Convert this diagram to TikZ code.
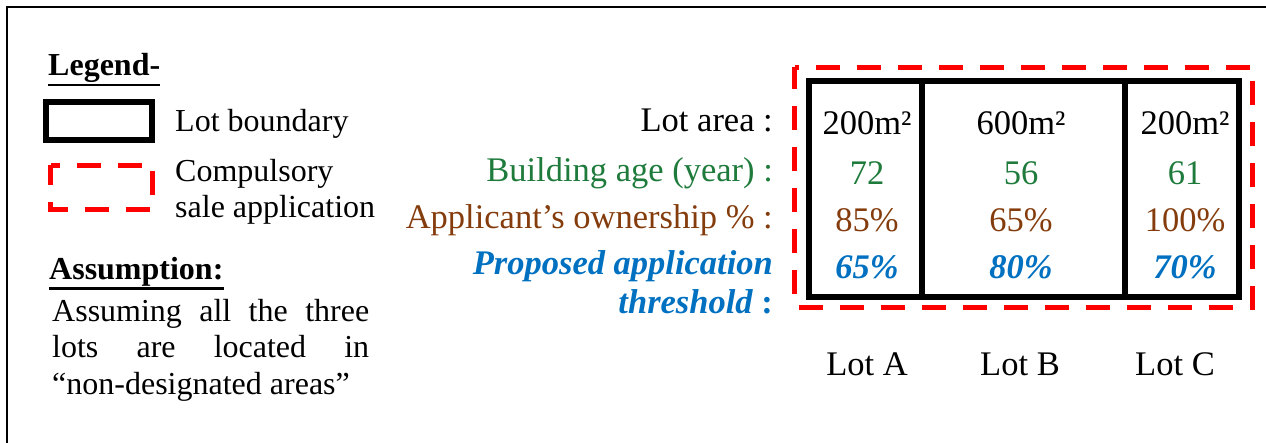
\documentclass[tikz,border=0pt]{standalone}
\usepackage{fontspec}
\setmainfont{Liberation Serif}
\definecolor{agegreen}{HTML}{1E7B3C}
\definecolor{ownbrown}{HTML}{843C0C}
\definecolor{threshblue}{HTML}{0070C0}
\definecolor{salered}{HTML}{FF0000}
\tikzset{
  txt/.style={inner sep=0pt, font=\fontsize{32}{36}\selectfont},
  rtxt/.style={inner sep=0pt, font=\fontsize{34.5}{40}\selectfont},
  lotline/.style={draw=black, line width=6pt},
  saleline/.style={draw=salered, line width=5pt, dash pattern=on 24pt off 17pt},
  uline/.style={line width=2.5pt},
  agetxt/.style={rtxt, text=agegreen},
  owntxt/.style={rtxt, text=ownbrown},
  thrtxt/.style={rtxt, text=threshblue, font=\fontsize{34.5}{40}\selectfont\bfseries\itshape},
}
\begin{document}
\begin{tikzpicture}[x=1pt, y=-1pt]
\useasboundingbox (0,0) rectangle (1266,443);
% outer frame (top and left edges only)
\draw[line width=2pt] (7,443) -- (7,7) -- (1266,7);

% ---- legend ----
\node[txt, font=\fontsize{32}{36}\selectfont\bfseries, anchor=base west] (legtitle) at (48,76) {Legend-};
\draw[uline] ([yshift=-1.5pt]legtitle.south west) -- ([yshift=-1.5pt]legtitle.south east);

\draw[lotline] (46,102) rectangle (152,140);
\node[txt, anchor=base west] (leglot) at (175,132) {Lot boundary};

\draw[saleline, dash phase=4pt] (50.5,165.5) rectangle (152.5,209.5);
\node[txt, anchor=base west] (legsale1) at (175,182) {Compulsory};
\node[txt, anchor=base west] (legsale2) at (175,218) {sale application};

% ---- assumption ----
\node[txt, font=\fontsize{32}{36}\selectfont\bfseries, anchor=base west] (asstitle) at (49,280) {Assumption:};
\draw[uline] ([yshift=-1.5pt]asstitle.south west) -- ([yshift=-1.5pt]asstitle.south east);
\node[txt, anchor=base west] (ass1) at (52,322) {\makebox[317pt][s]{Assuming all the three}};
\node[txt, anchor=base west] (ass2) at (52,358) {\makebox[317pt][s]{lots are located in}};
\node[txt, anchor=base west] (ass3) at (52,394) {“non-designated areas”};

% ---- row labels ----
\node[rtxt, anchor=base east] (lblarea) at (773,132) {Lot area :};
\node[agetxt, anchor=base east] (lblage) at (773,182) {Building age (year) :};
\node[owntxt, anchor=base east] (lblown) at (773,229) {Applicant’s ownership \% :};
\node[thrtxt, anchor=base east] (lblthr1) at (773,275) {Proposed application};
\node[thrtxt, anchor=base east] (lblthr2) at (773,314) {threshold \upshape:};

% ---- lots ----
\draw[saleline, dash phase=2pt] (794.5,67.5) rectangle (1252.5,307.5);
\draw[lotline] (809,81) rectangle (1239,297);
\draw[lotline] (922,81) -- (922,297);
\draw[lotline] (1125,81) -- (1125,297);

% lot A
\node[rtxt, anchor=base] (aarea) at (867,135) {200m²};
\node[agetxt, anchor=base] (aage) at (867,185) {72};
\node[owntxt, anchor=base] (aown) at (867,232) {85\%};
\node[thrtxt, anchor=base] (athr) at (867,279) {65\%};
% lot B
\node[rtxt, anchor=base] (barea) at (1021,135) {600m²};
\node[agetxt, anchor=base] (bage) at (1021,185) {56};
\node[owntxt, anchor=base] (bown) at (1021,232) {65\%};
\node[thrtxt, anchor=base] (bthr) at (1021,279) {80\%};
% lot C
\node[rtxt, anchor=base] (carea) at (1185,135) {200m²};
\node[agetxt, anchor=base] (cage) at (1185,185) {61};
\node[owntxt, anchor=base] (cown) at (1185,232) {100\%};
\node[thrtxt, anchor=base] (cthr) at (1185,279) {70\%};

% lot names
\node[rtxt, anchor=base] (lota) at (867,375) {Lot A};
\node[rtxt, anchor=base] (lotb) at (1020,375) {Lot B};
\node[rtxt, anchor=base] (lotc) at (1175,375) {Lot C};
\end{tikzpicture}
\end{document}
